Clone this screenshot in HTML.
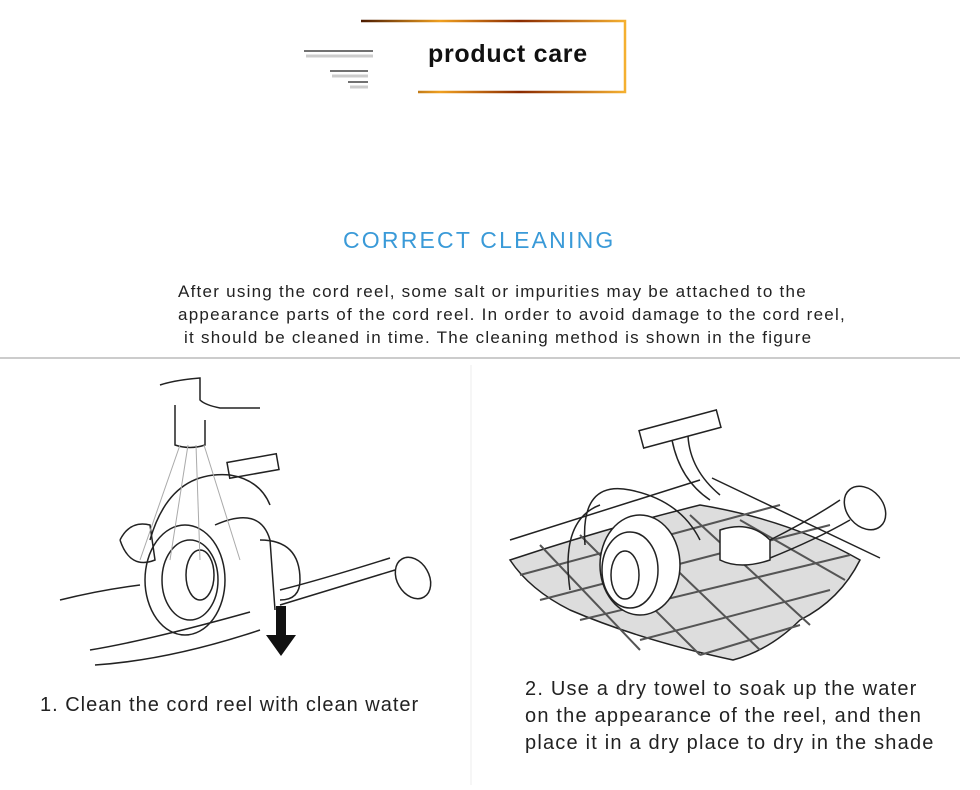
<!DOCTYPE html>
<html><head><meta charset="utf-8"><style>
body{margin:0;width:980px;height:790px;background:#fff;position:relative;overflow:hidden;font-family:"Liberation Sans",sans-serif}
.t{position:absolute;color:#222;white-space:nowrap}
</style></head><body>
<svg width="980" height="790" style="position:absolute;left:0;top:0">
<defs><linearGradient id="g" x1="0" x2="1"><stop offset="0" stop-color="#4a1a00"/><stop offset=".3" stop-color="#f0a020"/><stop offset=".6" stop-color="#8a2a00"/><stop offset="1" stop-color="#f5b030"/></linearGradient></defs>
<path d="M361 21 H625 V92 H418" fill="none" stroke="url(#g)" stroke-width="2.5"/>
<line x1="304" y1="51" x2="373" y2="51" stroke="#444" stroke-width="1.5"/>
<line x1="306" y1="56" x2="373" y2="56" stroke="#ccc" stroke-width="3"/>
<line x1="330" y1="71" x2="368" y2="71" stroke="#444" stroke-width="1.5"/>
<line x1="332" y1="76" x2="368" y2="76" stroke="#ccc" stroke-width="3"/>
<line x1="348" y1="82" x2="368" y2="82" stroke="#444" stroke-width="1.5"/>
<line x1="350" y1="87" x2="368" y2="87" stroke="#ccc" stroke-width="3"/>
<line x1="0" y1="358" x2="960" y2="358" stroke="#ccc" stroke-width="2"/>
<line x1="471" y1="365" x2="471" y2="785" stroke="#eee" stroke-width="1"/>
<g fill="none" stroke="#222" stroke-width="1.5">
<path d="M160 385 Q175 380 200 378 L200 400 Q205 405 220 408 L260 408"/>
<path d="M175 405 L175 445 Q190 450 205 445 L205 420"/>
<path d="M60 600 Q100 590 140 585 M90 650 Q150 640 250 612 M95 665 Q170 660 260 630"/>
<rect x="228" y="458" width="50" height="16" transform="rotate(-10 253 466)"/>
<ellipse cx="185" cy="580" rx="40" ry="55"/>
<ellipse cx="190" cy="580" rx="28" ry="40"/>
<ellipse cx="200" cy="575" rx="14" ry="25"/>
<path d="M215 525 Q260 505 270 540 L275 610 M150 540 Q170 470 230 475 Q260 480 270 505"/>
<path d="M260 540 Q300 540 300 580 Q300 600 280 600"/>
<path d="M280 590 Q320 580 390 558 M280 605 Q330 590 395 570"/>
<ellipse cx="413" cy="578" rx="16" ry="22" transform="rotate(-30 413 578)"/>
<path d="M120 540 Q130 520 150 525 L155 560 Q130 570 120 540"/>
</g>
<g stroke="#aaa" stroke-width="1"><line x1="180" y1="445" x2="140" y2="560"/><line x1="188" y1="445" x2="170" y2="560"/><line x1="196" y1="445" x2="200" y2="560"/><line x1="204" y1="445" x2="240" y2="560"/></g>
<polygon points="276,606 286,606 286,635 296,635 281,656 266,635 276,635" fill="#111"/>
<path d="M510 560 Q600 530 700 505 Q790 520 860 560 Q840 600 800 620 Q770 650 733 660 Q640 640 570 610 Q530 590 510 560Z" fill="#ddd" stroke="#222" stroke-width="1.5"/>
<g stroke="#555" stroke-width="2" fill="none">
<path d="M540 545 L640 650 M580 535 L700 655 M630 525 L760 650 M690 515 L810 625 M740 520 L845 580"/>
<path d="M520 575 L780 505 M540 600 L830 525 M580 620 L850 555 M640 640 L830 590 M700 655 L800 625"/>
</g>
<g fill="none" stroke="#222" stroke-width="1.5">
<path d="M510 540 L700 480 M712 478 L880 558"/>
<rect x="640" y="420" width="80" height="18" fill="#fff" transform="rotate(-15 680 429)"/>
<path d="M672 440 Q680 480 710 500 M688 436 Q690 470 720 495"/>
<ellipse cx="640" cy="565" rx="40" ry="50" fill="#fff"/>
<ellipse cx="630" cy="570" rx="28" ry="38"/>
<ellipse cx="625" cy="575" rx="14" ry="24"/>
<path d="M585 545 Q580 480 630 490 Q680 500 700 540 M570 590 Q560 520 600 505"/>
<path d="M720 530 Q750 520 770 540 L770 560 Q740 570 720 560Z" fill="#fff"/>
<path d="M770 540 Q810 520 840 500 M770 558 Q815 540 850 520"/>
<ellipse cx="865" cy="508" rx="18" ry="24" fill="#fff" transform="rotate(-40 865 508)"/>
</g>
</svg>
<div class="t" style="left:428px;top:40px;font-size:25px;font-weight:bold;color:#111;letter-spacing:0.7px">product care</div>
<div class="t" style="left:343px;top:227px;font-size:23px;color:#3a9ad8;letter-spacing:2.2px">CORRECT CLEANING</div>
<div class="t" style="left:178px;top:280px;font-size:17px;line-height:23px;letter-spacing:1.25px">After using the cord reel, some salt or impurities may be attached to the<br>appearance parts of the cord reel. In order to avoid damage to the cord reel,<br>&nbsp;it should be cleaned in time. The cleaning method is shown in the figure</div>
<div class="t" style="left:40px;top:694px;font-size:20px;letter-spacing:1px">1. Clean the cord reel with clean water</div>
<div class="t" style="left:525px;top:676px;font-size:20px;line-height:27px;letter-spacing:1.2px">2. Use a dry towel to soak up the water<br>on the appearance of the reel, and then<br>place it in a dry place to dry in the shade</div>
</body></html>
